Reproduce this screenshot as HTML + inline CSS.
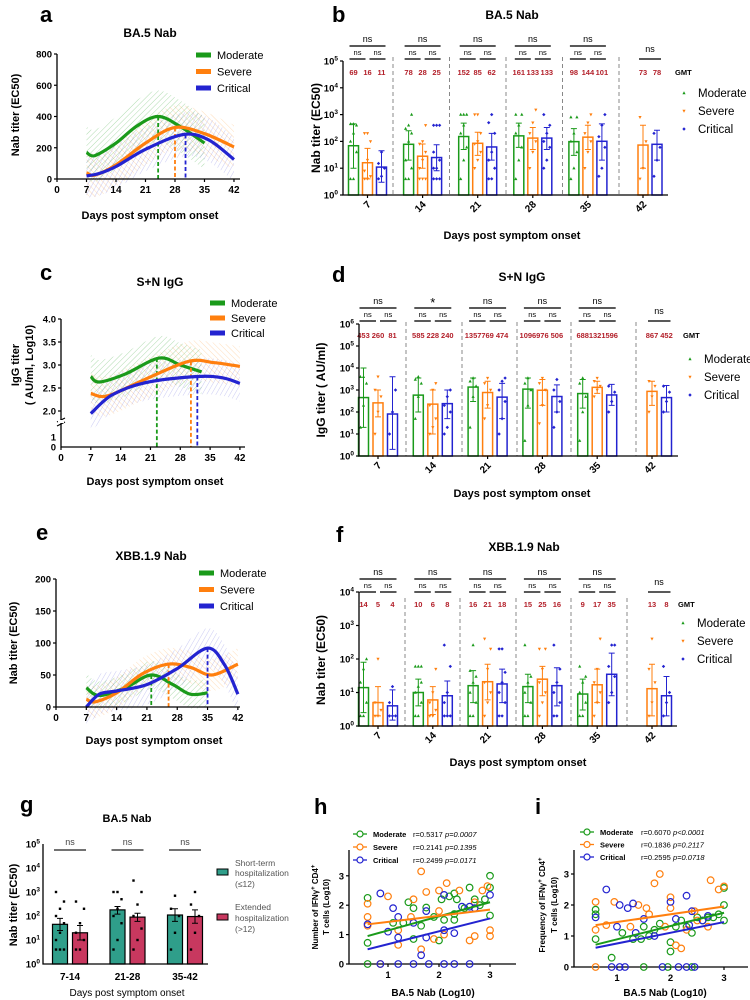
<!DOCTYPE html>
<html><head><meta charset="utf-8"><style>
html,body{margin:0;padding:0;background:#fff}
svg{display:block;font-family:"Liberation Sans",Arial,sans-serif}
.b{font-weight:bold}
</style></head><body>
<svg id="fig" width="750" height="1000" viewBox="0 0 750 1000" xmlns="http://www.w3.org/2000/svg">
<defs>
<pattern id="hg" width="4" height="4" patternUnits="userSpaceOnUse" patternTransform="rotate(45)"><line x1="0" y1="0" x2="0" y2="4" stroke="#1a9a1a" stroke-width="1" opacity="0.35"/></pattern>
<pattern id="ho" width="4" height="4" patternUnits="userSpaceOnUse" patternTransform="rotate(-45)"><line x1="0" y1="0" x2="0" y2="4" stroke="#ff8c1a" stroke-width="1" opacity="0.3"/></pattern>
<pattern id="hb" width="4" height="4" patternUnits="userSpaceOnUse" patternTransform="rotate(30)"><line x1="0" y1="0" x2="0" y2="4" stroke="#2a2ad0" stroke-width="1" opacity="0.25"/></pattern>
</defs>
<g class="b" fill="#000">
<text x="40" y="22" font-size="22">a</text>
<text x="150" y="37" font-size="12" text-anchor="middle">BA.5 Nab</text>
<text x="332" y="22" font-size="22">b</text>
<text x="512" y="19" font-size="12" text-anchor="middle">BA.5 Nab</text>
<text x="40" y="280" font-size="22">c</text>
<text x="160" y="286" font-size="12" text-anchor="middle">S+N IgG</text>
<text x="332" y="282" font-size="22">d</text>
<text x="522" y="281" font-size="12" text-anchor="middle">S+N IgG</text>
<text x="36" y="540" font-size="22">e</text>
<text x="151" y="560" font-size="12" text-anchor="middle">XBB.1.9  Nab</text>
<text x="336" y="542" font-size="22">f</text>
<text x="524" y="551" font-size="12" text-anchor="middle">XBB.1.9 Nab</text>
<text x="20" y="812" font-size="22">g</text>
<text x="127" y="822" font-size="11" text-anchor="middle">BA.5 Nab</text>
<text x="314" y="814" font-size="22">h</text>
<text x="535" y="814" font-size="22">i</text>
</g>
<g class="b" font-size="11" text-anchor="middle">
<text x="150" y="219">Days post symptom onset</text>
<text transform="translate(19,115) rotate(-90)">Nab titer (EC50)</text>
<text x="512" y="239">Days post symptom onset</text>
<text transform="translate(320,128) rotate(-90)" font-size="12">Nab titer (EC50)</text>
<text x="155" y="485">Days post symptom onset</text>
<text transform="translate(19,365) rotate(-90)">IgG titer</text>
<text transform="translate(33,365) rotate(-90)">( AU/ml, Log10)</text>
<text x="522" y="497">Days post symptom onset</text>
<text transform="translate(325,390) rotate(-90)" font-size="12">IgG titer ( AU/ml)</text>
<text x="154" y="744">Days post symptom onset</text>
<text transform="translate(17,643) rotate(-90)">Nab titer (EC50)</text>
<text x="518" y="766">Days post symptom onset</text>
<text transform="translate(325,660) rotate(-90)" font-size="12">Nab titer (EC50)</text>
<text x="127" y="996" font-weight="normal" font-size="10">Days post symptom onset</text>
<text transform="translate(17,905) rotate(-90)">Nab titer (EC50)</text>
<text x="433" y="996" font-size="10">BA.5 Nab (Log10)</text>
<text transform="translate(318,907) rotate(-90)" font-size="8">Number of IFNγ<tspan dy="-3" font-size="6">+</tspan><tspan dy="3"> CD4</tspan><tspan dy="-3" font-size="6">+</tspan></text>
<text transform="translate(329,907) rotate(-90)" font-size="8">T cells (Log10)</text>
<text x="665" y="996" font-size="10">BA.5 Nab (Log10)</text>
<text transform="translate(545,905) rotate(-90)" font-size="8">Frequency of IFNγ<tspan dy="-3" font-size="6">+</tspan><tspan dy="3"> CD4</tspan><tspan dy="-3" font-size="6">+</tspan></text>
<text transform="translate(557,905) rotate(-90)" font-size="8">T cells (Log10)</text>
</g>
<g font-size="8.5" fill="#555">
<rect x="217" y="869" width="11" height="6" fill="#2f9e8a" stroke="#000" stroke-width="1"/>
<text x="235" y="866">Short-term</text>
<text x="235" y="876">hospitalization</text>
<text x="235" y="887">(≤12)</text>
<rect x="217" y="914" width="11" height="6" fill="#c8385f" stroke="#000" stroke-width="1"/>
<text x="235" y="910">Extended</text>
<text x="235" y="921">hospitalization</text>
<text x="235" y="932">(&gt;12)</text>
</g>
</svg>
<script>
const NS='http://www.w3.org/2000/svg';
const svg=document.getElementById('fig');
const GR='#1a9a1a', OR='#ff7f0e', BL='#2323d0', RED='#b3202a';
function mk(tag,at,par){const e=document.createElementNS(NS,tag);for(const k in at)e.setAttribute(k,at[k]);(par||svg).appendChild(e);return e;}
function tx(x,y,s,at){const e=mk('text',Object.assign({x:x,y:y},at||{}));e.textContent=s;return e;}

const aGreenDays=[7,9,14,19,24,29,35], aGreenVals=[170,150,230,340,400,340,230];
const aOrangeDays=[7,9,14,21,28,35,42], aOrangeVals=[40,25,90,230,330,290,205];
const aBlueDays=[7,10,14,21,30,36,42], aBlueVals=[20,35,80,190,285,250,125];
const aPeaks=[24,28,30.5], aPeakVals=[400,330,285];
const aTicksY=[0,200,400,600,800];
const cGreenDays=[7,9,15,23,28,33], cGreenVals=[2.75,2.63,2.8,3.15,3.0,2.85];
const cOrangeDays=[7,11,20,30,36,42], cOrangeVals=[2.38,2.33,2.7,3.08,3.05,2.97];
const cBlueDays=[7,12,20,32,38,42], cBlueVals=[1.9,2.35,2.62,2.75,2.72,2.6];
const cPeaks=[22.5,30.5,32], cPeakVals=[3.15,3.08,2.75];
const cTicksY=[2.0,2.5,3.0,3.5,4.0];
const eGreenDays=[7,10,16,22,27,31,35], eGreenVals=[30,18,30,50,35,20,22];
const eOrangeDays=[7,9,14,20,26,31,36,42], eOrangeVals=[12,8,22,52,67,62,50,67];
const eBlueDays=[7,10,14,21,28,35,39,42], eBlueVals=[0,20,25,35,60,92,65,20];
const ePeaks=[22,26,35], ePeakVals=[50,67,92];
const eTicksY=[0,50,100,150,200];
const dayTicks=[0,7,14,21,28,35,42];
const legendNames=['Moderate','Severe','Critical'];

function smooth(p){let d='M'+p[0][0].toFixed(1)+','+p[0][1].toFixed(1);
 for(let i=0;i<p.length-1;i++){const p0=p[i-1]||p[i],p1=p[i],p2=p[i+1],p3=p[i+2]||p2;
  d+=' C'+(p1[0]+(p2[0]-p0[0])/6).toFixed(1)+','+(p1[1]+(p2[1]-p0[1])/6).toFixed(1)+' '+(p2[0]-(p3[0]-p1[0])/6).toFixed(1)+','+(p2[1]-(p3[1]-p1[1])/6).toFixed(1)+' '+p2[0].toFixed(1)+','+p2[1].toFixed(1);}
 return d;}
function band(days,vals,X,Y,w,pat){
 const up=days.map((d,i)=>[X(d),Y(vals[i])-w]);const lo=days.map((d,i)=>[X(d),Y(vals[i])+w]).reverse();
 const d=smooth(up)+' L'+lo[0][0]+','+lo[0][1]+' '+smooth(lo).slice(1)+' Z';
 const b=mk('path',{d:d,fill:pat,stroke:'none'});
 
 
}
function curvePanel(p){
 const X=p.X,Y=p.Y;
 const cols=[GR,OR,BL], pats=['url(#hg)','url(#ho)','url(#hb)'];
 p.series.forEach((s,k)=>band(s[0],s[1],X,Y,p.bw[k],pats[k]));
 p.series.forEach((s,k)=>{const pts=s[0].map((d,i)=>[X(d),Y(s[1][i])]);
  const c=mk('path',{d:smooth(pts),fill:'none',stroke:cols[k],'stroke-width':3.2});
  
  
  const v=mk('line',{x1:X(p.peaks[k]),x2:X(p.peaks[k]),y1:Y(p.peakVals[k]),y2:p.y0,stroke:cols[k],'stroke-width':1.8,'stroke-dasharray':'4,2.5'});
  
  
 });
 const ax=mk('path',{d:'M'+p.ax+','+p.ytop+' V'+p.y0+' H'+p.xend,fill:'none',stroke:'#000','stroke-width':1.3});
 
 
 dayTicks.forEach(d=>{const t=mk('line',{x1:X(d),x2:X(d),y1:p.y0,y2:p.y0+3,stroke:'#000','stroke-width':1.2});
  
  
  const l=tx(X(d),p.y0+14,String(d),{'font-size':10,'font-weight':'bold','text-anchor':'middle'});
  
  });
 p.ticksY.forEach(v=>{const t=mk('line',{x1:p.ax-3,x2:p.ax,y1:Y(v),y2:Y(v),stroke:'#000','stroke-width':1.2});
  
  
  const l=tx(p.ax-5,Y(v)+3.5,p.fmt(v),{'font-size':9.5,'font-weight':'bold','text-anchor':'end'});
  
  });
 legendNames.forEach((n,k)=>{const ly=p.legY+k*p.legDy;
  const r=mk('rect',{x:p.legX,y:ly-2.5,width:15,height:5,fill:cols[k]});
  
  
  const l=tx(p.legX+21,ly+4,n,{'font-size':11});
  
  });
}
curvePanel({X:d=>57+d*4.214,Y:v=>179-v*125/800,y0:179,ytop:54,ax:57,xend:240,
 series:[[aGreenDays,aGreenVals],[aOrangeDays,aOrangeVals],[aBlueDays,aBlueVals]],bw:[26,22,22],
 peaks:aPeaks,peakVals:aPeakVals,ticksY:aTicksY,fmt:v=>String(v),legX:196,legY:55,legDy:16.5});
function cY(v){return v>=2?411-(v-2)*46:437-(v-1)*26;}
curvePanel({X:d=>61+d*4.26,Y:cY,y0:447,ytop:319,ax:61,xend:245,
 series:[[cGreenDays,cGreenVals],[cOrangeDays,cOrangeVals],[cBlueDays,cBlueVals]],bw:[22,20,18],
 peaks:cPeaks,peakVals:cPeakVals,ticksY:cTicksY,fmt:v=>v.toFixed(1),legX:210,legY:303,legDy:15});
{const t=tx(56,440.5,'1',{'font-size':9.5,'font-weight':'bold','text-anchor':'end'});
 
 
 const t0=tx(56,450.5,'0',{'font-size':9.5,'font-weight':'bold','text-anchor':'end'});
 
 
 const br=mk('path',{d:'M57,422 L65,418 M57,426 L65,422',stroke:'#000','stroke-width':1.2,fill:'none'});
 
 
 const wb=mk('rect',{x:58,y:420,width:6,height:3,fill:'#fff'});
 
 }
curvePanel({X:d=>56+d*4.33,Y:v=>707-v*0.64,y0:707,ytop:579,ax:56,xend:240,
 series:[[eGreenDays,eGreenVals],[eOrangeDays,eOrangeVals],[eBlueDays,eBlueVals]],bw:[14,16,20],
 peaks:ePeaks,peakVals:ePeakVals,ticksY:eTicksY,fmt:v=>String(v),legX:199,legY:573,legDy:16.5});

const groupLabels=['7','14','21','28','35','42'];
const bGMT=[[69,16,11],[78,28,25],[152,85,62],[161,133,133],[98,144,101],[null,73,78]];
const bErrLo=[[10,4,3],[20,10,8],[50,30,20],[60,50,50],[30,50,20],[null,10,20]];
const bErrHi=[[450,55,45],[250,80,75],[480,220,200],[480,330,330],[300,400,450],[null,400,260]];
const bPoints=[[[4,4,40,100,200,400,450,450],[4,4,5,8,20,100,200,200],[4,5,10,15,40]],
 [[4,4,10,20,100,200,300,400,1000],[4,4,4,10,20,40,80,100,400],[4,4,4,10,10,20,40,400,400,400]],
 [[4,20,60,200,400,1000,1000,1000],[10,20,40,80,100,200,1000,1000],[4,4,10,20,40,200,500,1000]],
 [[4,20,60,200,400,1000,1000],[10,40,100,200,500,1500],[10,20,60,100,200,400,1000]],
 [[4,10,40,100,200,800,800],[10,40,100,200,500,1000],[5,10,60,150,400,1000]],
 [[],[4,10,100,800],[5,20,60,200]]];
const bSig=['ns','ns','ns','ns','ns','ns'];
const dGMT=[[453,260,81],[585,228,240],[1357,769,474],[1096,976,506],[688,1321,596],[null,867,452]];
const dErrLo=[[20,60,2],[100,10,50],[300,150,50],[150,200,100],[150,700,200],[null,200,100]];
const dErrHi=[[10000,1000,4000],[3500,1000,1000],[3500,2500,2000],[3500,3000,1700],[3000,2500,1800],[null,2500,1600]];
const dPoints=[[[20,200,2000,4000,4000],[10,100,500,1000,4000],[10,100,1000]],
 [[50,500,2000,3000,4000],[10,20,50,200,1000,2000],[10,20,100,200,500,1000]],
 [[20,500,1500,2500,3500],[50,200,1000,2000,3500],[10,50,300,1000,2500,3500]],
 [[5,200,1000,2000,3500],[30,200,1000,2000,3500],[20,100,300,1000,3000]],
 [[5,100,500,2000,3500],[500,1000,1500,2500,3500],[100,300,800,1500]],
 [[],[100,500,1500,2500],[100,300,800,1500]]];
const dSig=['ns','*','ns','ns','ns','ns'];
const fGMT=[[14,5,4],[10,6,8],[16,21,18],[15,25,16],[9,17,35],[null,13,8]];
const fErrLo=[[2.5,2,1.5],[4,2.2,2],[5,6,5],[5,8,4],[3,5,8],[null,2,2]];
const fErrHi=[[80,15,12],[25,15,22],[45,70,50],[35,60,55],[25,50,150],[null,70,30]];
const fPoints=[[[2,2,5,20,50,100],[2,2,3,5,100],[2,2,2,5,15]],
 [[2,2,5,10,15,20,60,60,60],[2,2,3,5,10,50],[2,2,2,5,10,60,260]],
 [[2,2,5,10,20,30,45,260],[2,5,10,20,50,200,400],[2,2,5,10,20,40,200,200]],
 [[2,2,5,10,20,30,260],[2,5,10,20,50,200,200],[2,2,5,10,20,50,260]],
 [[2,2,5,10,20,30,60],[2,5,10,20,50,400],[5,10,30,60,260,260]],
 [[],[2,5,20,50,400],[2,5,10,60]]];
const fSig=['ns','ns','ns','ns','ns','ns'];

function yTickLabel(x,y,e){const t=tx(x,y,'10',{'font-size':9.5,'font-weight':'bold','text-anchor':'end'});
 const s=document.createElementNS(NS,'tspan');s.setAttribute('dy','-4');s.setAttribute('font-size','6.5');s.textContent=String(e);t.appendChild(s);
 
 }
function marker(x,y,k,col){let m;
 if(k===0)m=mk('path',{d:`M${x},${y-1.8} L${x+1.6},${y+1.2} L${x-1.6},${y+1.2}Z`,fill:col});
 else if(k===1)m=mk('path',{d:`M${x},${y+1.8} L${x+1.6},${y-1.2} L${x-1.6},${y-1.2}Z`,fill:col});
 else m=mk('rect',{x:x-1.2,y:y-1.2,width:2.4,height:2.4,fill:col,transform:`rotate(45 ${x} ${y})`});
 return m;}
function barPanel(p){
 const Y=v=>p.y0-Math.log10(v)*p.per, cols=[GR,OR,BL];
 const cx=(g,k)=>p.orange0+g*p.gsp+(k-1)*p.isp;
 for(let g=0;g<6;g++){for(let k=0;k<3;k++){const v=p.gmt[g][k];if(v==null)continue;const x=cx(g,k);
  const r=mk('rect',{x:x-5,y:Y(v),width:10,height:p.y0-Y(v),fill:'none',stroke:cols[k],'stroke-width':1.5});
  
  
  const eb=mk('path',{d:`M${x},${Y(p.lo[g][k])} V${Y(p.hi[g][k])} M${x-3},${Y(p.hi[g][k])} H${x+3} M${x-3},${Y(p.lo[g][k])} H${x+3}`,stroke:cols[k],'stroke-width':1,fill:'none'});
  
  
  p.pts[g][k].forEach((pv,i)=>{const m=marker(x+((i%3)-1)*3,Y(pv),k,cols[k]);
   
   });
  const gm=tx(x,p.gmtY,String(v),{'font-size':7.5,'font-weight':'bold',fill:RED,'text-anchor':'middle'});
  
  
 }
 const lx=cx(g,1), tk=mk('line',{x1:lx,x2:lx,y1:p.y0,y2:p.y0+3,stroke:'#000','stroke-width':1.2});
 
 
 const tl=tx(lx+4,p.y0+10,groupLabels[g],{'font-size':10,'font-weight':'bold','text-anchor':'end',transform:`rotate(-45 ${lx+4} ${p.y0+10})`});
 
 
 if(g<5){const sx=p.seps[g];
  const sp=mk('line',{x1:sx,x2:sx,y1:p.sepTop,y2:p.y0,stroke:'#888','stroke-width':1,'stroke-dasharray':'4,3'});
  
  
  const tb=mk('line',{x1:cx(g,0)-4,x2:cx(g,2)+4,y1:p.topLine,y2:p.topLine,stroke:'#222','stroke-width':1.5});
  
  
  const tt=tx(cx(g,1),p.topLine-4,p.sig[g],{'font-size':p.sig[g]==='*'?13:9,'text-anchor':'middle',dy:p.sig[g]==='*'?3:0});
  
  
  [[0,1],[1,2]].forEach(([a,b])=>{const x1=a===0?cx(g,0)-4:cx(g,1)+2,x2=a===0?cx(g,1)-2:cx(g,2)+4;
   const sb=mk('line',{x1:x1,x2:x2,y1:p.subLine,y2:p.subLine,stroke:'#222','stroke-width':1.5});
   
   
   const st=tx((x1+x2)/2,p.subLine-4,'ns',{'font-size':7.5,'text-anchor':'middle'});
   
   });
 } else {
  const sb=mk('line',{x1:cx(g,1)-4,x2:cx(g,2)+4,y1:p.subLine,y2:p.subLine,stroke:'#222','stroke-width':1.5});
  
  
  const st=tx(cx(g,1)+7,p.subLine-7,p.sig[g],{'font-size':9,'text-anchor':'middle'});
  
  }
 }
 const ax=mk('path',{d:`M${p.ax},${p.y0-p.dec*p.per} V${p.y0} H${p.xend}`,fill:'none',stroke:'#000','stroke-width':1.3});
 
 
 for(let e=0;e<=p.dec;e++){const t=mk('line',{x1:p.ax-3,x2:p.ax,y1:p.y0-e*p.per,y2:p.y0-e*p.per,stroke:'#000','stroke-width':1.2});
  
  
  yTickLabel(p.ax-5,p.y0-e*p.per+3.5,e);}
 const gl=tx(p.gmtX,p.gmtY,'GMT',{'font-size':7.5,'font-weight':'bold'});
 
 
 legendNames.forEach((n,k)=>{const ly=p.legY+k*p.legDy;
  const m=marker(p.legX,ly,k,cols[k]);
  
  
  const l=tx(p.legX+14,ly+4,n,{'font-size':11.5});
  
  });
}
barPanel({y0:195,per:26.8,dec:5,ax:343,xend:668,orange0:367.5,gsp:55.1,isp:14,seps:[393,449.5,506,562.5,619],sepTop:57,
 gmt:bGMT,lo:bErrLo,hi:bErrHi,pts:bPoints,sig:bSig,topLine:46,subLine:59,gmtY:75,gmtX:675,legX:684,legY:93,legDy:18});
barPanel({y0:456,per:22,dec:6,ax:359,xend:678,orange0:378,gsp:54.8,isp:14.5,seps:[406,462,517,571,636],sepTop:322,
 gmt:dGMT,lo:dErrLo,hi:dErrHi,pts:dPoints,sig:dSig,topLine:308,subLine:321,gmtY:338,gmtX:683,legX:690,legY:359,legDy:18});
barPanel({y0:726,per:33.5,dec:4,ax:359,xend:677,orange0:378,gsp:54.8,isp:14.5,seps:[405,460,516,571,627],sepTop:598,
 gmt:fGMT,lo:fErrLo,hi:fErrHi,pts:fPoints,sig:fSig,topLine:579,subLine:592,gmtY:607,gmtX:678,legX:683,legY:623,legDy:18});

const gCats=['7-14','21-28','35-42'];
const gShort=[45,180,110], gExt=[20,90,95];
const gShortLo=[25,120,60], gShortHi=[80,250,200];
const gExtLo=[10,60,50], gExtHi=[40,130,180];
const gShortPts=[[4,4,4,10,20,50,100,200,400,1000],[4,10,50,100,200,500,1000,1000],[4,20,100,200,700]];
const gExtPts=[[4,4,10,20,50,200,400],[4,10,30,100,300,1000,3000],[4,20,100,300,1000]];
{const Y=v=>964-Math.log10(v)*24, X=i=>68+i*57.5;
 for(let i=0;i<3;i++){
  [[gShort,gShortLo,gShortHi,gShortPts,'#2f9e8a',-8,'short-term'],[gExt,gExtLo,gExtHi,gExtPts,'#c8385f',12,'extended']].forEach(s=>{
   const x=X(i)+s[5], v=s[0][i];
   const r=mk('rect',{x:x-7.5,y:Y(v),width:15,height:964-Y(v),fill:s[4],stroke:'#000','stroke-width':1.2});
   
   
   s[3][i].forEach((pv,j)=>{const c=mk('rect',{x:x-1.2+((j%3)-1)*4,y:Y(pv)-1.2,width:2.4,height:2.4,fill:'#000'});
    
    });
   const eb=mk('path',{d:`M${x},${Y(s[1][i])} V${Y(s[2][i])} M${x-3},${Y(s[2][i])} H${x+3} M${x-3},${Y(s[1][i])} H${x+3}`,stroke:'#000','stroke-width':1,fill:'none'});
   
   
  });
  const bx=X(i)+2;
  const br=mk('line',{x1:bx-16,x2:bx+16,y1:850,y2:850,stroke:'#444','stroke-width':1.6});
  
  
  const ns=tx(bx,845,'ns',{'font-size':9,'text-anchor':'middle',fill:'#444'});
  
  
  const tl=tx(X(i)+2,980,gCats[i],{'font-size':10,'font-weight':'bold','text-anchor':'middle'});
  
  
 }
 const ax=mk('path',{d:'M43,844 V964 H208',fill:'none',stroke:'#000','stroke-width':1.3});
 
 
 for(let e=0;e<=5;e++){yTickLabel(40,964-e*24+3.5,e);}
}

const hGreen=[[0.6,2.25],[0.6,0.72],[0.6,0],[1.1,1.4],[1.3,1.4],[1.4,2.1],[1.5,1.9],[1.5,0.85],[1.65,1.3],[1.75,1.92],[1.9,1.6],[2.0,0.8],[2.05,2.2],[2.1,1.5],[2.2,2.3],[2.3,2.4],[2.3,1.5],[2.35,2.2],[2.5,1.9],[2.6,2.6],[2.7,2.2],[2.8,2.0],[2.9,2.2],[3.0,3.0],[3.0,2.6],[3.0,1.65],[2.3,1.7]];
const hOrange=[[0.6,2.05],[0.6,1.6],[0.6,1.3],[0.85,0],[1.0,2.3],[1.2,0.65],[1.2,1.15],[1.45,1.6],[1.5,2.2],[1.65,3.15],[1.65,0.5],[1.75,2.45],[2.0,2.5],[2.0,1.8],[2.1,1.0],[2.15,2.75],[2.4,2.5],[2.6,0.8],[2.7,0.95],[2.7,2.1],[2.85,2.5],[3.0,1.15],[3.0,0.95],[1.9,0.85],[2.95,2.65]];
const hBlue=[[0.6,1.35],[0.85,2.4],[0.85,0],[1.2,0],[1.1,1.9],[1.2,1.6],[1.2,0.9],[1.0,1.1],[1.5,1.4],[1.65,0.3],[1.5,0],[1.75,1.8],[1.75,0.9],[1.8,0],[2.1,2.35],[2.1,1.15],[2.3,1.05],[2.1,0],[2.45,1.95],[2.3,0],[2.7,1.9],[3.0,2.35],[2.6,0],[2.6,1.95]];
const hLines=[[0.95,2.1],[1.35,1.85],[0.5,1.55]];
const hStats=[['r=0.5317','p=0.0007'],['r=0.2141','p=0.1395'],['r=0.2499','p=0.0171']];
const iGreen=[[0.6,1.85],[0.6,0.9],[0.6,1.7],[0.9,0.3],[1.1,1.1],[1.3,0.9],[1.45,0.9],[1.5,1.3],[1.6,1.0],[1.7,1.2],[1.8,1.4],[2.0,0.5],[2.0,0.8],[2.1,1.3],[2.2,1.5],[2.3,1.3],[2.4,1.1],[2.5,1.6],[2.6,1.5],[2.7,1.6],[2.8,1.6],[2.9,1.7],[3.0,2.0],[3.0,1.5],[3.0,2.55],[1.5,0],[1.95,0],[2.4,0]];
const iOrange=[[0.6,2.1],[0.6,1.2],[0.6,0],[0.8,1.35],[0.95,2.1],[1.25,1.3],[1.4,2.0],[1.55,1.9],[1.7,2.7],[1.8,3.0],[1.9,1.3],[2.0,2.25],[2.1,0.7],[2.2,0.6],[2.3,1.2],[2.45,1.8],[2.5,1.5],[2.7,1.3],[2.75,2.8],[2.9,2.5],[3.0,2.6],[1.6,1.7],[2.0,1.9]];
const iBlue=[[0.6,1.6],[0.8,2.5],[0.9,0],[1.0,1.3],[1.05,2.0],[1.2,1.9],[1.3,2.05],[1.35,1.1],[1.5,1.55],[1.7,1.0],[1.85,0],[2.0,2.1],[2.1,1.55],[2.15,0],[2.3,2.3],[2.35,1.35],[2.4,1.8],[2.45,0],[2.6,1.5],[2.7,1.65],[1.05,0],[1.15,0],[2.3,0]];
const iLines=[[0.72,1.75],[1.35,1.95],[0.62,1.45]];
const iStats=[['r=0.6070','p<0.0001'],['r=0.1836','p=0.2117'],['r=0.2595','p=0.0718']];
function scatter(p){
 const cols=[GR,OR,BL];
 const ax=mk('path',{d:`M${p.ax},${p.ytop} V${p.Y(0)} H${p.xend}`,fill:'none',stroke:'#000','stroke-width':1.3});
 
 
 [0,1,2,3].forEach(v=>{const l=tx(p.ax-5,p.Y(v)+3.5,String(v),{'font-size':9.5,'font-weight':'bold','text-anchor':'end'});
  
  
  const t=mk('line',{x1:p.ax-3,x2:p.ax,y1:p.Y(v),y2:p.Y(v),stroke:'#000','stroke-width':1.2});
  
  });
 [1,2,3].forEach(v=>{const l=tx(p.X(v),p.Y(0)+14,String(v),{'font-size':9.5,'font-weight':'bold','text-anchor':'middle'});
  
  
  const t=mk('line',{x1:p.X(v),x2:p.X(v),y1:p.Y(0),y2:p.Y(0)+3,stroke:'#000','stroke-width':1.2});
  
  });
 p.series.forEach((s,k)=>{s.forEach(pt=>{const c=mk('circle',{cx:p.X(pt[0]),cy:p.Y(pt[1]),r:3.3,fill:'none',stroke:cols[k],'stroke-width':1.2});
   
   });});
 p.lines.forEach((l,k)=>{const ln=mk('line',{x1:p.X(0.6),y1:p.Y(l[0]),x2:p.X(3.0),y2:p.Y(l[1]),stroke:cols[k],'stroke-width':2});
  
  });
 legendNames.forEach((n,k)=>{const ly=p.legY+k*p.legDy;
  const ml=mk('line',{x1:p.legX-7,x2:p.legX+7,y1:ly,y2:ly,stroke:cols[k],'stroke-width':1.3});
  
  
  const mc=mk('circle',{cx:p.legX,cy:ly,r:3,fill:'#fff',stroke:cols[k],'stroke-width':1.2});
  
  
  const t=tx(p.legX+13,ly+3,n,{'font-size':7.5,'font-weight':'bold'});
  
  
  const r=tx(p.rX,ly+3,p.stats[k][0],{'font-size':7.5});
  
  
  const pp=tx(p.pX,ly+3,p.stats[k][1],{'font-size':7.5,'font-style':'italic'});
  
  });
}
scatter({X:v=>388+(v-1)*51,Y:v=>964-v*29.4,ax:349,ytop:850,xend:516,series:[hGreen,hOrange,hBlue],lines:hLines,stats:hStats,legX:360,legY:834,legDy:13,rX:413,pX:445});
scatter({X:v=>617+(v-1)*53.5,Y:v=>967-v*31,ax:574,ytop:850,xend:748,series:[iGreen,iOrange,iBlue],lines:iLines,stats:iStats,legX:587,legY:832,legDy:12.5,rX:641,pX:673});
</script>
</body></html>
